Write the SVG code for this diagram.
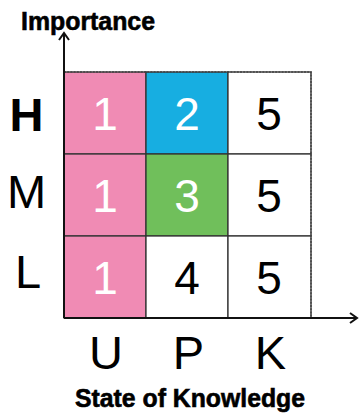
<svg xmlns="http://www.w3.org/2000/svg" width="360" height="414" viewBox="0 0 360 414">
<style>
.cell{stroke:#333;stroke-width:1.3}
.num{font-family:"Liberation Sans",Arial,sans-serif;font-size:46px;text-anchor:middle}
.w{fill:#fff}
.b{fill:#000}
.lab{font-family:"Liberation Sans",Arial,sans-serif;font-size:47px;text-anchor:middle;fill:#000}
.title{font-family:"Liberation Sans",Arial,sans-serif;font-size:25px;font-weight:bold;fill:#000;stroke:#000;stroke-width:0.6}
.dash{fill:none;stroke:#444;stroke-width:1.5;stroke-dasharray:2 1.2}
.axis{fill:none;stroke:#111;stroke-width:2}
</style>
<defs>
<marker id="arr" markerWidth="12" markerHeight="12" refX="9" refY="6" orient="auto" markerUnits="userSpaceOnUse">
<path d="M2,1 L9,6 L2,11" fill="none" stroke="#111" stroke-width="2"/>
</marker>
</defs>
<rect width="360" height="414" fill="#fff"/>
<g id="cell-H-U"><rect class="cell" x="64" y="72" width="82" height="82" fill="#F08BB4"/><text class="num w" x="105" y="130">1</text></g>
<g id="cell-H-P"><rect class="cell" x="146" y="72" width="82" height="82" fill="#17AEE1"/><text class="num w" x="187" y="130">2</text></g>
<g id="cell-H-K"><rect class="cell" x="228" y="72" width="83" height="82" fill="#fff"/><text class="num b" x="269" y="130">5</text></g>
<g id="cell-M-U"><rect class="cell" x="64" y="154" width="82" height="82" fill="#F08BB4"/><text class="num w" x="105" y="212">1</text></g>
<g id="cell-M-P"><rect class="cell" x="146" y="154" width="82" height="82" fill="#70BF5B"/><text class="num w" x="187" y="212">3</text></g>
<g id="cell-M-K"><rect class="cell" x="228" y="154" width="83" height="82" fill="#fff"/><text class="num b" x="269" y="212">5</text></g>
<g id="cell-L-U"><rect class="cell" x="64" y="236" width="82" height="82" fill="#F08BB4"/><text class="num w" x="105" y="294">1</text></g>
<g id="cell-L-P"><rect class="cell" x="146" y="236" width="82" height="82" fill="#fff"/><text class="num b" x="187" y="294">4</text></g>
<g id="cell-L-K"><rect class="cell" x="228" y="236" width="83" height="82" fill="#fff"/><text class="num b" x="269" y="294">5</text></g>
<g id="border"><path class="dash" d="M64,72 H311 V318"/></g>
<g id="connectors">
<path class="axis" d="M64,318 V33" marker-end="url(#arr)"/>
<path class="axis" d="M64,318 H357" marker-end="url(#arr)"/>
</g>
<g id="row-labels">
<text class="lab" x="26.5" y="131" font-weight="bold">H</text>
<text class="lab" x="26.5" y="208">M</text>
<text class="lab" x="28" y="288">L</text>
</g>
<g id="col-labels">
<text class="lab" x="106" y="369">U</text>
<text class="lab" x="188.5" y="369">P</text>
<text class="lab" x="270.5" y="369">K</text>
</g>
<g id="axis-titles">
<text class="title" x="21" y="30" textLength="134" lengthAdjust="spacingAndGlyphs">Importance</text>
<text class="title" x="75" y="407" textLength="230" lengthAdjust="spacingAndGlyphs">State of Knowledge</text>
</g>
</svg>
